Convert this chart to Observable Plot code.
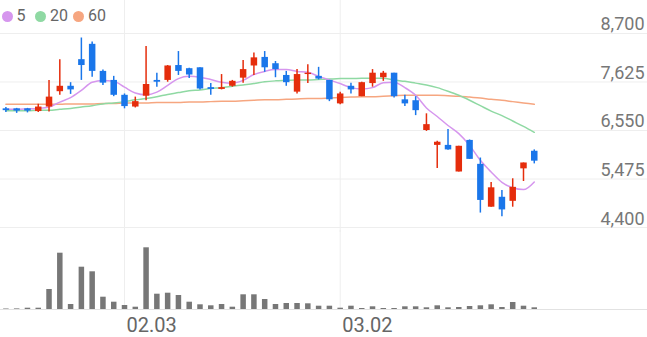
<!DOCTYPE html>
<html><head><meta charset="utf-8">
<script src="https://cdn.jsdelivr.net/npm/d3@7"></script>
<script src="https://cdn.jsdelivr.net/npm/@observablehq/plot@0.6"></script>
<style>
html,body{margin:0;padding:0;background:#fff;}
#wrap{position:relative;width:647px;height:337px;overflow:hidden;font-family:Roboto,sans-serif;}
#price,#vol{position:absolute;left:0;}
#price{top:0;}
#vol{top:230px;}
#price text.ylab{letter-spacing:1.5px;font-weight:300;}
#vol text.xlab{font-weight:300;}
.dot{position:absolute;width:11px;height:11px;border-radius:50%;top:11px;}
.lbl{position:absolute;top:6px;font-size:16px;line-height:20px;color:#666;font-family:Roboto,sans-serif;}
</style></head><body>
<div id="wrap"><div id="price"></div><div id="vol"></div><div id="legend"></div></div>
<script>
// ---- data ----
const opens  = [7030,7030,7030,6970,7070,7410,7530,8120,8460,7860,7660,7330,7070,7310,7660,7660,7990,7920,7940,7500,7460,7530,7710,7980,8170,8030,7770,7400,7790,7750,7660,7140,7530,7300,7590,7720,7820,7230,7210,6550,6220,6220,5630,6330,5800,4850,5070,4980,5700,6090];
const highs  = [7060,7040,7040,7130,7660,8120,7610,8600,8510,7890,7750,7360,7290,8410,7820,7990,8300,7930,7940,7590,7790,7660,8100,8270,8300,8080,7860,7900,8010,7950,7660,7400,7600,7620,7900,7860,7820,7330,7300,6920,6310,6570,6200,6340,5940,5400,5220,5480,5830,6120];
const lows   = [6950,6930,6940,6950,6960,7330,7350,7660,7730,7550,7300,7030,7050,7210,7510,7620,7770,7700,7450,7330,7450,7510,7600,7770,7840,7720,7530,7360,7590,7670,7190,7120,7360,7300,7510,7640,7270,7080,6880,6530,5710,6110,5630,5910,4720,4850,4640,4850,5420,5810];
const closes = [6990,6980,6980,7070,7290,7530,7450,7990,7860,7600,7330,7080,7190,7570,7620,7980,7860,7780,7470,7460,7500,7640,7900,8160,7940,7900,7610,7790,7820,7690,7230,7360,7450,7610,7820,7820,7300,7140,6990,6680,6290,6120,6200,5910,5000,5280,4790,5290,5830,5870];
const volumes = [5000,6000,13000,13000,200000,563000,50000,423000,377000,123000,73000,40000,23000,617000,153000,163000,140000,73000,47000,37000,50000,23000,147000,147000,100000,50000,60000,60000,57000,33000,33000,13000,33000,10000,27000,10000,10000,27000,27000,17000,37000,17000,20000,30000,37000,47000,20000,70000,33000,17000];
const ma5  = [7020,7020,7030,7040,7070,7180,7280,7440,7620,7660,7640,7510,7380,7340,7400,7550,7700,7750,7730,7680,7620,7600,7660,7790,7860,7900,7900,7860,7840,7750,7670,7590,7500,7470,7500,7610,7620,7500,7330,7050,6860,6660,6480,6220,5890,5630,5400,5280,5240,5410];
const ma20 = [6990,6990,6990,7000,7000,7020,7040,7070,7100,7140,7160,7190,7230,7260,7300,7350,7390,7430,7450,7480,7500,7530,7560,7590,7630,7650,7660,7670,7670,7680,7690,7700,7700,7710,7710,7710,7670,7640,7600,7560,7500,7420,7330,7220,7100,6980,6880,6760,6640,6510];
const ma60 = [7130,7130,7130,7130,7130,7130,7140,7140,7140,7150,7150,7160,7160,7160,7170,7170,7170,7180,7180,7190,7200,7200,7210,7220,7230,7230,7240,7250,7260,7260,7270,7280,7290,7300,7300,7310,7320,7330,7330,7330,7330,7320,7310,7290,7270,7240,7220,7190,7160,7130];
const maPeriods = [5, 20, 60];
const priceTicks = [4400, 5475, 6550, 7625, 8700];
const dateTicks = [11, 31];
const dateLabels = ["02.03", "03.02"];

// ---- build ----
const UP = "#e52d0c", DOWN = "#1a76ea";
const maColors = ["#d696ee", "#8fd9a3", "#f6a680"];
const candles = d3.range(closes.length).map(i => ({
  i, open: opens[i], high: highs[i], low: lows[i], close: closes[i], vol: volumes[i],
  ma5: ma5[i], ma20: ma20[i], ma60: ma60[i]
}));
const col = d => d.close >= d.open ? UP : DOWN;
const xDomain = [-0.5, 59.5];
const grid = "#eeeeee";

const price = Plot.plot({
  width: 647, height: 232, marginTop: 0, marginBottom: 0, marginLeft: 0, marginRight: 0,
  style: {fontFamily: "Roboto, sans-serif", background: "transparent"},
  x: {type: "linear", domain: xDomain, axis: null},
  y: {domain: [4289.2, 9431.4], axis: null},
  color: {type: "identity"},
  marks: [
    Plot.ruleY(priceTicks, {stroke: grid}),
    Plot.ruleX(dateTicks, {stroke: grid}),
    Plot.text(priceTicks, {y: d => d, text: d => d3.format(",")(d), frameAnchor: "right",
      textAnchor: "end", lineAnchor: "bottom", dx: -3, dy: -3, fontSize: 18, fill: "#777", className: "ylab"}),
    Plot.line(candles, {x: "i", y: "ma60", stroke: maColors[2], strokeWidth: 1.5, curve: "monotone-x"}),
    Plot.line(candles, {x: "i", y: "ma20", stroke: maColors[1], strokeWidth: 1.5, curve: "monotone-x"}),
    Plot.line(candles, {x: "i", y: "ma5", stroke: maColors[0], strokeWidth: 1.5, curve: "monotone-x"}),
    Plot.ruleX(candles, {x: "i", y1: "low", y2: "high", stroke: col, strokeWidth: 1.5}),
    Plot.ruleX(candles, {x: "i", y1: "open", y2: "close", stroke: col, strokeWidth: 6.5})
  ]
});
document.getElementById("price").appendChild(price);

const vol = Plot.plot({
  width: 647, height: 107, marginTop: 0, marginBottom: 28, marginLeft: 0, marginRight: 0,
  style: {fontFamily: "Roboto, sans-serif", background: "transparent"},
  x: {type: "linear", domain: xDomain, axis: null},
  y: {domain: [0, 790000], axis: null},
  marks: [
    Plot.ruleX(dateTicks, {stroke: grid}),
    Plot.ruleX(candles, {x: "i", y1: 0, y2: "vol", stroke: "#777", strokeWidth: 5.5}),
    Plot.ruleY([0], {stroke: "#e2e2e2"}),
    Plot.text(dateTicks, {x: d => d, text: d => dateLabels[dateTicks.indexOf(d)], frameAnchor: "bottom",
      lineAnchor: "top", textAnchor: "start", dx: 2, dy: 8, fontSize: 20, fill: "#666", className: "xlab"})
  ]
});
document.getElementById("vol").appendChild(vol);

// legend
const lg = document.getElementById("legend");
const dotLeft = [1.5, 34.5, 72.5];
const txtLeft = [16.5, 50, 88];
maPeriods.forEach((p, k) => {
  const d = document.createElement("div");
  d.className = "dot"; d.style.left = dotLeft[k] + "px"; d.style.background = maColors[k];
  lg.appendChild(d);
  const t = document.createElement("div");
  t.className = "lbl"; t.style.left = txtLeft[k] + "px"; t.textContent = p;
  lg.appendChild(t);
});
</script>
</body></html>
